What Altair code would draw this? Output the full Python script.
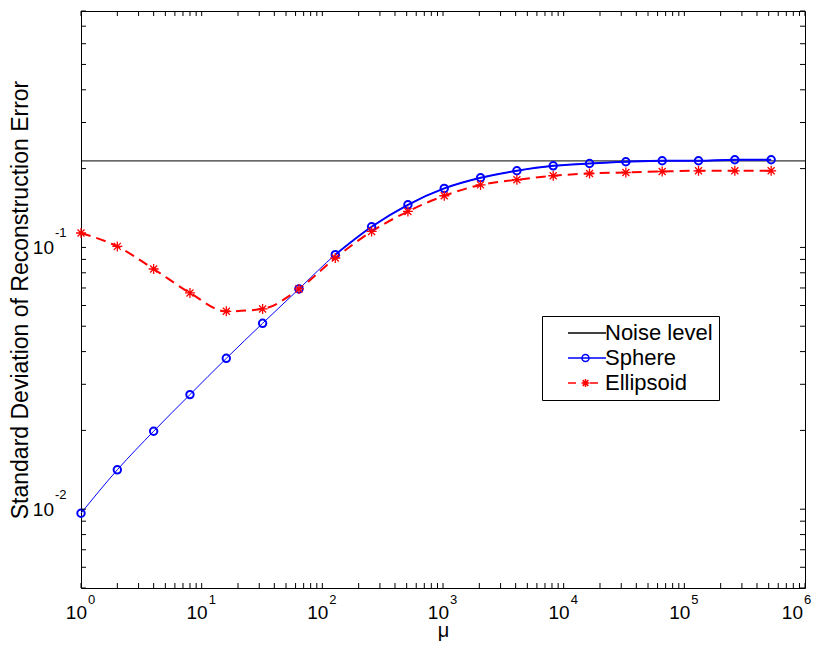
import altair as alt
import pandas as pd

# ---------------- data ----------------
mu = [1, 2, 4, 8, 16, 32, 64, 128, 256, 512, 1024, 2048, 4096, 8192,
      16384, 32768, 65536, 131072, 262144, 524288]
sphere = [0.00965, 0.01414, 0.01985, 0.0274, 0.0377, 0.0513, 0.0694, 0.0938,
          0.1199, 0.1455, 0.168, 0.1845, 0.1963, 0.205, 0.2092, 0.2124,
          0.2143, 0.2143, 0.2162, 0.2162]
ellipsoid = [0.1135, 0.1009, 0.0827, 0.067, 0.057, 0.0582, 0.0694, 0.0911,
             0.1151, 0.1372, 0.1575, 0.1733, 0.1813, 0.1878, 0.1916, 0.1933,
             0.195, 0.1962, 0.1962, 0.1962]
noise_level = 0.214

series_names = ["Noise level", "Sphere", "Ellipsoid"]
series_colors = ["#000000", "#0000FF", "#FF0000"]

x_domain = [1, 1e6]
y_domain = [0.005, 0.8]
x_label_exponents = ["0", "1", "2", "3", "4", "5", "6"]
y_label_exponents = ["-2", "-1"]
tick_multipliers = [1, 2, 3, 4, 5, 6, 7, 8, 9]
x_decades = [1, 10, 100, 1000, 10000, 100000]
y_decades = [0.001, 0.01, 0.1]

FONT = "Liberation Sans"

x_ticks = [m * d for d in x_decades for m in tick_multipliers] + [x_domain[1]]
y_ticks = [round(m * d, 6) for d in y_decades for m in tick_multipliers]
y_ticks = [v for v in y_ticks if y_domain[0] <= v <= y_domain[1]]

# ---------------- scales / axes ----------------
xs = alt.Scale(type="log", domain=x_domain, nice=False)
ys = alt.Scale(type="log", domain=y_domain, nice=False)
xa = alt.Axis(title="μ", labels=False, ticks=False, domain=False, grid=False,
              titleFont=FONT, titleFontSize=20, titleFontWeight="normal",
              titleColor="black", titleBaseline="alphabetic", titleY=48)
ya = alt.Axis(title="Standard Deviation of Reconstruction Error", labels=False,
              ticks=False, domain=False, grid=False, titleFont=FONT,
              titleFontSize=23, titleFontWeight="normal", titleColor="black",
              titleBaseline="alphabetic", titleAngle=270, titleX=-54, titleY=288.5)


def X(field):
    return alt.X(field, type="quantitative", scale=xs, axis=xa)


def Y(field):
    return alt.Y(field, type="quantitative", scale=ys, axis=ya)


df_s = pd.DataFrame({"mu": mu, "val": sphere})
df_e = pd.DataFrame({"mu": mu, "val": ellipsoid})
df_n = pd.DataFrame({"val": [noise_level]})

STAR = ("M-1,0L1,0M0,-1L0,1M-0.7,-0.7L0.7,0.7M-0.7,0.7L0.7,-0.7")

noise = alt.Chart(df_n).mark_rule(color="black", strokeWidth=1).encode(y=Y("val"))

sphere_line = alt.Chart(df_s).mark_line(
    color="#0000FF", strokeWidth=1, interpolate="monotone").encode(x=X("mu"), y=Y("val"))
sphere_thick = alt.Chart(df_s).transform_filter("datum.mu >= 128").mark_line(
    color="#0000FF", strokeWidth=2, interpolate="monotone").encode(x=X("mu"), y=Y("val"))
sphere_pts = alt.Chart(df_s).mark_point(
    shape="circle", size=55, strokeWidth=2, filled=False, opacity=1,
    color="#0000FF").encode(x=X("mu"), y=Y("val"))

ell_line = alt.Chart(df_e).mark_line(
    color="#FF0000", strokeWidth=2, strokeDash=[10, 6],
    interpolate="monotone").encode(x=X("mu"), y=Y("val"))
ell_pts = alt.Chart(df_e).mark_point(
    shape=STAR, size=100, strokeWidth=1.3, filled=False, opacity=1,
    color="#FF0000").encode(x=X("mu"), y=Y("val"))

# ---------------- inward ticks on all four sides ----------------
xt = pd.DataFrame({"mu": x_ticks, "vb": y_domain[0], "vt": y_domain[1]})
yt = pd.DataFrame({"val": y_ticks, "ml": x_domain[0], "mr": x_domain[1]})
TICK = dict(size=5, thickness=1, color="black", opacity=1)
t_bottom = alt.Chart(xt).mark_tick(orient="vertical", yOffset=-2.5, **TICK).encode(x=X("mu"), y=Y("vb"))
t_top = alt.Chart(xt).mark_tick(orient="vertical", yOffset=2.5, **TICK).encode(x=X("mu"), y=Y("vt"))
t_left = alt.Chart(yt).mark_tick(orient="horizontal", xOffset=2.5, **TICK).encode(x=X("ml"), y=Y("val"))
t_right = alt.Chart(yt).mark_tick(orient="horizontal", xOffset=-2.5, **TICK).encode(x=X("mr"), y=Y("val"))

# ---------------- tick labels 10^k ----------------
xl = pd.DataFrame({"mu": [10 ** int(e) for e in x_label_exponents],
                   "v": y_domain[0], "base": "10", "exp": x_label_exponents})
yl = pd.DataFrame({"val": [10.0 ** int(e) for e in y_label_exponents],
                   "m": x_domain[0], "base": "10", "exp": y_label_exponents})

BASE = dict(font=FONT, fontSize=19, color="black", baseline="alphabetic")
EXP = dict(font=FONT, fontSize=13, color="black", baseline="alphabetic")
inner = "datum.mu < 1000000"
outer = "datum.mu >= 1000000"
xb1 = alt.Chart(xl).transform_filter(inner).mark_text(align="right", dx=6, dy=31, **BASE).encode(
    x=X("mu"), y=Y("v"), text="base:N")
xe1 = alt.Chart(xl).transform_filter(inner).mark_text(align="left", dx=7, dy=16, **EXP).encode(
    x=X("mu"), y=Y("v"), text="exp:N")
xb2 = alt.Chart(xl).transform_filter(outer).mark_text(align="right", dx=-2, dy=31, **BASE).encode(
    x=X("mu"), y=Y("v"), text="base:N")
xe2 = alt.Chart(xl).transform_filter(outer).mark_text(align="left", dx=-1, dy=16, **EXP).encode(
    x=X("mu"), y=Y("v"), text="exp:N")
yb = alt.Chart(yl).mark_text(align="right", dx=-27, dy=7, **BASE).encode(
    x=X("m"), y=Y("val"), text="base:N")
ye = alt.Chart(yl).mark_text(align="left", dx=-26, dy=-10, **EXP).encode(
    x=X("m"), y=Y("val"), text="exp:N")

# ---------------- legend ----------------
LEG_PATHS = [
    "M-3.8,0L3.8,0",
    "M-3.8,0L3.8,0M0.4,0A0.7,0.7,0,1,1,-1.0,0A0.7,0.7,0,1,1,0.4,0",
    "M-3.8,0L-2.2,0M0.6,0L2.2,0M-1.1,0L0.5,0M-0.3,-0.8L-0.3,0.8"
    "M-0.87,-0.57L0.27,0.57M-0.87,0.57L0.27,-0.57",
]

leg_df = pd.DataFrame({"series": series_names, "mu": x_domain[0], "val": 0.1})
L = alt.Legend(title=" ", titleOrient="left", titleFontSize=1, titlePadding=7,
               orient="none", legendX=461, legendY=305,
               symbolSize=100, symbolStrokeWidth=1.5, symbolOpacity=1,
               symbolOffset=21, labelOffset=7, labelFont=FONT,
               labelFontSize=22, labelColor="black", labelBaseline="middle",
               padding=6, rowPadding=3, strokeColor="black",
               fillColor="white", symbolFillColor="transparent")
legend_layer = alt.Chart(leg_df).mark_point(opacity=0, filled=False).encode(
    x=X("mu"), y=Y("val"),
    color=alt.Color("series:N", scale=alt.Scale(domain=series_names, range=series_colors), legend=L),
    shape=alt.Shape("series:N", scale=alt.Scale(domain=series_names, range=LEG_PATHS), legend=L),
)

chart = alt.layer(
    noise, sphere_line, sphere_thick, ell_line, sphere_pts, ell_pts,
    t_bottom, t_top, t_left, t_right,
    xb1, xe1, xb2, xe2, yb, ye, legend_layer,
).properties(
    width=724, height=577,
    padding={"left": 73, "top": 3, "right": 8, "bottom": 53},
    autosize=alt.AutoSizeParams(type="none"),
).configure(background="white", font=FONT).configure_view(
    stroke="black", strokeWidth=1)

chart.save("out.html", embed_options={"renderer": "svg", "actions": False})
